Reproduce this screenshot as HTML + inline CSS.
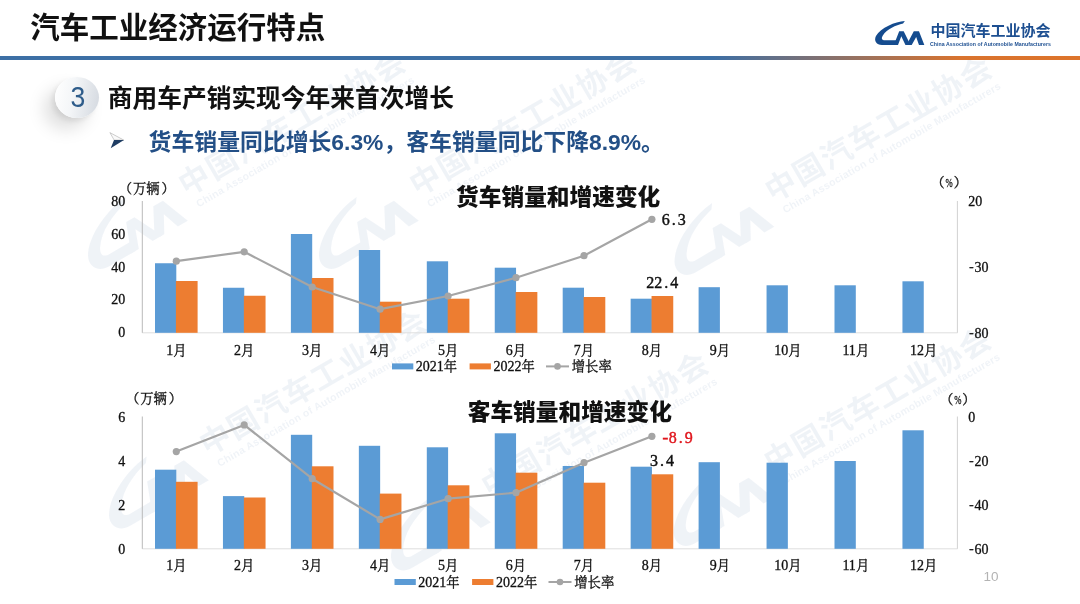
<!DOCTYPE html>
<html lang="zh-CN"><head><meta charset="utf-8"><title>汽车工业经济运行特点</title>
<style>
html,body{margin:0;padding:0;background:#fff;}
body{width:1080px;height:604px;position:relative;overflow:hidden;font-family:"Liberation Sans","Noto Sans CJK SC",sans-serif;}
.abs{position:absolute;white-space:nowrap;}
#title{left:30.2px;top:8px;font-size:29.5px;font-weight:700;color:#111;line-height:40px;letter-spacing:0;}
#rule{left:0;top:56px;width:1080px;height:3.6px;background:linear-gradient(90deg,#3d6fa5 0%,#3d6fa5 66%,#d9732e 89%,#dd742b 100%);}
#badge{left:55px;top:76.6px;width:44.2px;height:41.4px;border-radius:50%;background:linear-gradient(100deg,#ffffff 0%,#f4f6f8 40%,#d3d8df 100%);box-shadow:-11px 11px 17px rgba(0,0,0,.13),-3px 3px 5px rgba(0,0,0,.07);}
#num{left:55.5px;top:75.6px;width:44px;height:44px;line-height:42.5px;text-align:center;font-size:29.5px;transform:scaleX(.9);color:#2e5c8a;font-family:"Liberation Sans",sans-serif;}
#h1{left:107.8px;top:81px;font-size:24.72px;font-weight:700;color:#111;line-height:36px;}
#h2{left:148.6px;top:124.5px;font-size:22.85px;font-weight:700;color:#234f86;line-height:34px;}
#arrow{left:108px;top:130px;}
#logotxt{left:930.6px;top:19.6px;font-size:15px;font-weight:700;color:#1d4f91;line-height:22px;}
#logoen{left:930px;top:41px;font-size:10.6px;font-weight:700;color:#1d4f91;line-height:12px;transform:scale(.491,.5);transform-origin:0 0;letter-spacing:.1px;}
#pg{left:983.4px;top:568px;font-size:13.5px;color:#b3b3b3;line-height:18px;font-family:"Liberation Sans",sans-serif;}
svg text.t{font-family:"Liberation Serif","Noto Serif CJK SC",serif;font-size:13.33px;fill:#111;stroke:#111;stroke-width:.3px;}
svg text.n{font-size:14px;}
svg text.d{font-family:"Liberation Serif","Noto Serif CJK SC",serif;font-size:16px;stroke-width:.42px;}
svg text.ct{font-family:"Liberation Sans","Noto Sans CJK SC",sans-serif;font-size:22.7px;font-weight:900;fill:#111;}
svg .wm text{font-family:"Liberation Sans","Noto Sans CJK SC",sans-serif;font-weight:700;}
</style></head><body>
<svg class="abs" style="left:0;top:60px;overflow:hidden" width="1080" height="544" viewBox="0 60 1080 544">
<g class="wm" transform="translate(194,179.5) rotate(-30.1)" fill="#1d4f91" opacity="0.062"><g transform="translate(-142.9,-34.4) scale(0.1282)"><path d="M585,118 C420,130 180,230 100,370 C60,450 110,522 200,522 L445,522 L480,440 L250,440 C190,440 190,400 215,360 C290,250 430,190 555,160 Z"/>
<path d="M400,522 L490,290 L565,290 L680,522 L595,522 L525,375 L470,522 Z"/>
<path d="M640,470 L735,290 L822,290 L912,522 L822,522 L775,385 L700,522 L660,522 Z"/></g><text x="-15.3" y="11.2" font-size="30.6" letter-spacing="1.6">中国汽车工业协会</text><text x="-10" y="26.6" font-size="10.4" textLength="250" lengthAdjust="spacing">China Association of Automobile Manufacturers</text></g>
<g class="wm" transform="translate(425,179.5) rotate(-30.1)" fill="#1d4f91" opacity="0.062"><g transform="translate(-142.9,-34.4) scale(0.1282)"><path d="M585,118 C420,130 180,230 100,370 C60,450 110,522 200,522 L445,522 L480,440 L250,440 C190,440 190,400 215,360 C290,250 430,190 555,160 Z"/>
<path d="M400,522 L490,290 L565,290 L680,522 L595,522 L525,375 L470,522 Z"/>
<path d="M640,470 L735,290 L822,290 L912,522 L822,522 L775,385 L700,522 L660,522 Z"/></g><text x="-15.3" y="11.2" font-size="30.6" letter-spacing="1.6">中国汽车工业协会</text><text x="-10" y="26.6" font-size="10.4" textLength="250" lengthAdjust="spacing">China Association of Automobile Manufacturers</text></g>
<g class="wm" transform="translate(780.5,185.5) rotate(-30.1)" fill="#1d4f91" opacity="0.062"><g transform="translate(-142.9,-34.4) scale(0.1282)"><path d="M585,118 C420,130 180,230 100,370 C60,450 110,522 200,522 L445,522 L480,440 L250,440 C190,440 190,400 215,360 C290,250 430,190 555,160 Z"/>
<path d="M400,522 L490,290 L565,290 L680,522 L595,522 L525,375 L470,522 Z"/>
<path d="M640,470 L735,290 L822,290 L912,522 L822,522 L775,385 L700,522 L660,522 Z"/></g><text x="-15.3" y="11.2" font-size="30.6" letter-spacing="1.6">中国汽车工业协会</text><text x="-10" y="26.6" font-size="10.4" textLength="250" lengthAdjust="spacing">China Association of Automobile Manufacturers</text></g>
<g class="wm" transform="translate(215,439) rotate(-30.1)" fill="#1d4f91" opacity="0.062"><g transform="translate(-142.9,-34.4) scale(0.1282)"><path d="M585,118 C420,130 180,230 100,370 C60,450 110,522 200,522 L445,522 L480,440 L250,440 C190,440 190,400 215,360 C290,250 430,190 555,160 Z"/>
<path d="M400,522 L490,290 L565,290 L680,522 L595,522 L525,375 L470,522 Z"/>
<path d="M640,470 L735,290 L822,290 L912,522 L822,522 L775,385 L700,522 L660,522 Z"/></g><text x="-15.3" y="11.2" font-size="30.6" letter-spacing="1.6">中国汽车工业协会</text><text x="-10" y="26.6" font-size="10.4" textLength="250" lengthAdjust="spacing">China Association of Automobile Manufacturers</text></g>
<g class="wm" transform="translate(497,481) rotate(-30.1)" fill="#1d4f91" opacity="0.062"><g transform="translate(-142.9,-34.4) scale(0.1282)"><path d="M585,118 C420,130 180,230 100,370 C60,450 110,522 200,522 L445,522 L480,440 L250,440 C190,440 190,400 215,360 C290,250 430,190 555,160 Z"/>
<path d="M400,522 L490,290 L565,290 L680,522 L595,522 L525,375 L470,522 Z"/>
<path d="M640,470 L735,290 L822,290 L912,522 L822,522 L775,385 L700,522 L660,522 Z"/></g><text x="-15.3" y="11.2" font-size="30.6" letter-spacing="1.6">中国汽车工业协会</text><text x="-10" y="26.6" font-size="10.4" textLength="250" lengthAdjust="spacing">China Association of Automobile Manufacturers</text></g>
<g class="wm" transform="translate(779.7,456.5) rotate(-30.1)" fill="#1d4f91" opacity="0.062"><g transform="translate(-142.9,-34.4) scale(0.1282)"><path d="M585,118 C420,130 180,230 100,370 C60,450 110,522 200,522 L445,522 L480,440 L250,440 C190,440 190,400 215,360 C290,250 430,190 555,160 Z"/>
<path d="M400,522 L490,290 L565,290 L680,522 L595,522 L525,375 L470,522 Z"/>
<path d="M640,470 L735,290 L822,290 L912,522 L822,522 L775,385 L700,522 L660,522 Z"/></g><text x="-15.3" y="11.2" font-size="30.6" letter-spacing="1.6">中国汽车工业协会</text><text x="-10" y="26.6" font-size="10.4" textLength="250" lengthAdjust="spacing">China Association of Automobile Manufacturers</text></g>
</svg>
<div class="abs" id="title">汽车工业经济运行特点</div>
<div class="abs" id="rule"></div>
<svg class="abs" style="left:870px;top:14px" width="64" height="36" viewBox="0 0 1074 604" fill="#154c8f"><path d="M585,118 C420,130 180,230 100,370 C60,450 110,522 200,522 L445,522 L480,440 L250,440 C190,440 190,400 215,360 C290,250 430,190 555,160 Z"/>
<path d="M400,522 L490,290 L565,290 L680,522 L595,522 L525,375 L470,522 Z"/>
<path d="M640,470 L735,290 L822,290 L912,522 L822,522 L775,385 L700,522 L660,522 Z"/></svg>
<div class="abs" id="logotxt">中国汽车工业协会</div>
<div class="abs" id="logoen">China Association of Automobile Manufacturers</div>
<div class="abs" id="badge"></div>
<div class="abs" id="num">3</div>
<div class="abs" id="h1">商用车产销实现今年来首次增长</div>
<svg class="abs" id="arrow" width="18" height="20" viewBox="0 0 18 20"><path d="M1.9,2.6 L15.8,10.1 L6.2,10.1 Z" fill="#fafafa" stroke="#b8b8b8" stroke-width=".7" stroke-linejoin="round"/><path d="M6,9.9 L16,9.9 L2.7,18.2 Z" fill="#1f3d63"/></svg>
<div class="abs" id="h2">货车销量同比增长6.3%，客车销量同比下降8.9%。</div>
<svg class="abs" style="left:0;top:0" width="1080" height="604" viewBox="0 0 1080 604">
<path d="M142.3,332.8 H957.5" fill="none" stroke="#dedede" stroke-width="1"/>
<path d="M142.3,201 V332.8" fill="none" stroke="#b9b9b9" stroke-width="1"/>
<path d="M957.4,201 V332.8" fill="none" stroke="#d2d2d2" stroke-width="1"/>
<rect x="155.00" y="263.25" width="21.3" height="69.55" fill="#5b9bd5"/>
<rect x="222.95" y="287.75" width="21.3" height="45.05" fill="#5b9bd5"/>
<rect x="290.90" y="234.00" width="21.3" height="98.80" fill="#5b9bd5"/>
<rect x="358.85" y="250.00" width="21.3" height="82.80" fill="#5b9bd5"/>
<rect x="426.80" y="261.30" width="21.3" height="71.50" fill="#5b9bd5"/>
<rect x="494.75" y="267.70" width="21.3" height="65.10" fill="#5b9bd5"/>
<rect x="562.70" y="287.70" width="21.3" height="45.10" fill="#5b9bd5"/>
<rect x="630.65" y="298.70" width="21.3" height="34.10" fill="#5b9bd5"/>
<rect x="698.60" y="287.20" width="21.3" height="45.60" fill="#5b9bd5"/>
<rect x="766.55" y="285.30" width="21.3" height="47.50" fill="#5b9bd5"/>
<rect x="834.50" y="285.30" width="21.3" height="47.50" fill="#5b9bd5"/>
<rect x="902.45" y="281.30" width="21.3" height="51.50" fill="#5b9bd5"/>
<rect x="175.90" y="281.00" width="21.7" height="51.80" fill="#ed7d31"/>
<rect x="243.85" y="295.75" width="21.7" height="37.05" fill="#ed7d31"/>
<rect x="311.80" y="278.00" width="21.7" height="54.80" fill="#ed7d31"/>
<rect x="379.75" y="301.70" width="21.7" height="31.10" fill="#ed7d31"/>
<rect x="447.70" y="298.70" width="21.7" height="34.10" fill="#ed7d31"/>
<rect x="515.65" y="292.00" width="21.7" height="40.80" fill="#ed7d31"/>
<rect x="583.60" y="297.00" width="21.7" height="35.80" fill="#ed7d31"/>
<rect x="651.55" y="296.00" width="21.7" height="36.80" fill="#ed7d31"/>
<polyline fill="none" stroke="#a5a5a5" stroke-width="2.2" stroke-linejoin="round" points="176.3,261.2 244.2,251.8 312.2,287.0 380.1,309.2 448.1,296.0 516.0,277.7 584.0,255.7 651.9,219.3"/>
<circle cx="176.3" cy="261.2" r="3.6" fill="#a5a5a5"/>
<circle cx="244.2" cy="251.8" r="3.6" fill="#a5a5a5"/>
<circle cx="312.2" cy="287.0" r="3.6" fill="#a5a5a5"/>
<circle cx="380.1" cy="309.2" r="3.6" fill="#a5a5a5"/>
<circle cx="448.1" cy="296.0" r="3.6" fill="#a5a5a5"/>
<circle cx="516.0" cy="277.7" r="3.6" fill="#a5a5a5"/>
<circle cx="584.0" cy="255.7" r="3.6" fill="#a5a5a5"/>
<circle cx="651.9" cy="219.3" r="3.6" fill="#a5a5a5"/>
<text x="125.2" y="205.7" text-anchor="end" class="t n">80</text>
<text x="125.2" y="238.6" text-anchor="end" class="t n">60</text>
<text x="125.2" y="271.5" text-anchor="end" class="t n">40</text>
<text x="125.2" y="304.4" text-anchor="end" class="t n">20</text>
<text x="125.2" y="337.3" text-anchor="end" class="t n">0</text>
<text x="968.2" y="205.9" class="t n">20</text>
<text x="967.4" y="271.8" class="t n"><tspan font-family="Liberation Mono,monospace" font-size="13" dy="-0.9">-</tspan><tspan x="974.6" dy="0.9">30</tspan></text>
<text x="967.4" y="337.7" class="t n"><tspan font-family="Liberation Mono,monospace" font-size="13" dy="-0.9">-</tspan><tspan x="974.6" dy="0.9">80</tspan></text>
<text x="176.3" y="354.8" text-anchor="middle" class="t"><tspan font-size="14">1</tspan>月</text>
<text x="244.2" y="354.8" text-anchor="middle" class="t"><tspan font-size="14">2</tspan>月</text>
<text x="312.2" y="354.8" text-anchor="middle" class="t"><tspan font-size="14">3</tspan>月</text>
<text x="380.1" y="354.8" text-anchor="middle" class="t"><tspan font-size="14">4</tspan>月</text>
<text x="448.1" y="354.8" text-anchor="middle" class="t"><tspan font-size="14">5</tspan>月</text>
<text x="516.0" y="354.8" text-anchor="middle" class="t"><tspan font-size="14">6</tspan>月</text>
<text x="584.0" y="354.8" text-anchor="middle" class="t"><tspan font-size="14">7</tspan>月</text>
<text x="651.9" y="354.8" text-anchor="middle" class="t"><tspan font-size="14">8</tspan>月</text>
<text x="719.9" y="354.8" text-anchor="middle" class="t"><tspan font-size="14">9</tspan>月</text>
<text x="787.8" y="354.8" text-anchor="middle" class="t"><tspan font-size="14">10</tspan>月</text>
<text x="855.8" y="354.8" text-anchor="middle" class="t"><tspan font-size="14">11</tspan>月</text>
<text x="923.7" y="354.8" text-anchor="middle" class="t"><tspan font-size="14">12</tspan>月</text>
<text x="147.3" y="192.8" text-anchor="middle" class="t" dx="-0.6 0.9 0 1.8">（万辆）</text>
<text x="950.2" y="187.4" text-anchor="middle" class="t" dx="-1">（<tspan textLength="7.2" lengthAdjust="spacingAndGlyphs" dx="0.9">%</tspan><tspan dx="0.9">）</tspan></text>
<rect x="392" y="363.4" width="21.3" height="6" fill="#5b9bd5"/>
<text x="415.8" y="371.2" class="t"><tspan font-size="14">2021</tspan>年</text>
<rect x="469.6" y="363.4" width="21.3" height="6" fill="#ed7d31"/>
<text x="493.4" y="371.2" class="t"><tspan font-size="14">2022</tspan>年</text>
<path d="M546,366.4 h23" stroke="#a5a5a5" stroke-width="2"/>
<circle cx="557.5" cy="366.4" r="3.3" fill="#a5a5a5"/>
<text x="571.8" y="371.2" class="t">增长率</text>
<text x="661.8" y="224.9" dx="0 2 2" class="d" fill="#111" stroke="#111">6.3</text>
<text x="646.2" y="287.6" dx="0 0 2 2" class="d" fill="#111" stroke="#111">22.4</text>
<text x="558.2" y="204.7" text-anchor="middle" class="ct">货车销量和增速变化</text>
<path d="M142.3,548.8 H957.5" fill="none" stroke="#dedede" stroke-width="1"/>
<path d="M142.3,416.5 V548.8" fill="none" stroke="#b9b9b9" stroke-width="1"/>
<path d="M957.4,416.5 V548.8" fill="none" stroke="#d2d2d2" stroke-width="1"/>
<rect x="155.00" y="469.70" width="21.3" height="79.10" fill="#5b9bd5"/>
<rect x="222.95" y="496.10" width="21.3" height="52.70" fill="#5b9bd5"/>
<rect x="290.90" y="434.80" width="21.3" height="114.00" fill="#5b9bd5"/>
<rect x="358.85" y="445.80" width="21.3" height="103.00" fill="#5b9bd5"/>
<rect x="426.80" y="447.30" width="21.3" height="101.50" fill="#5b9bd5"/>
<rect x="494.75" y="433.30" width="21.3" height="115.50" fill="#5b9bd5"/>
<rect x="562.70" y="466.00" width="21.3" height="82.80" fill="#5b9bd5"/>
<rect x="630.65" y="466.70" width="21.3" height="82.10" fill="#5b9bd5"/>
<rect x="698.60" y="462.20" width="21.3" height="86.60" fill="#5b9bd5"/>
<rect x="766.55" y="462.70" width="21.3" height="86.10" fill="#5b9bd5"/>
<rect x="834.50" y="461.00" width="21.3" height="87.80" fill="#5b9bd5"/>
<rect x="902.45" y="430.30" width="21.3" height="118.50" fill="#5b9bd5"/>
<rect x="175.90" y="481.80" width="21.7" height="67.00" fill="#ed7d31"/>
<rect x="243.85" y="497.50" width="21.7" height="51.30" fill="#ed7d31"/>
<rect x="311.80" y="466.30" width="21.7" height="82.50" fill="#ed7d31"/>
<rect x="379.75" y="493.60" width="21.7" height="55.20" fill="#ed7d31"/>
<rect x="447.70" y="485.30" width="21.7" height="63.50" fill="#ed7d31"/>
<rect x="515.65" y="472.70" width="21.7" height="76.10" fill="#ed7d31"/>
<rect x="583.60" y="482.70" width="21.7" height="66.10" fill="#ed7d31"/>
<rect x="651.55" y="474.30" width="21.7" height="74.50" fill="#ed7d31"/>
<polyline fill="none" stroke="#a5a5a5" stroke-width="2.2" stroke-linejoin="round" points="176.3,451.6 244.2,424.9 312.2,478.7 380.1,519.4 448.1,498.7 516.0,492.7 584.0,462.7 651.9,436.3"/>
<circle cx="176.3" cy="451.6" r="3.6" fill="#a5a5a5"/>
<circle cx="244.2" cy="424.9" r="3.6" fill="#a5a5a5"/>
<circle cx="312.2" cy="478.7" r="3.6" fill="#a5a5a5"/>
<circle cx="380.1" cy="519.4" r="3.6" fill="#a5a5a5"/>
<circle cx="448.1" cy="498.7" r="3.6" fill="#a5a5a5"/>
<circle cx="516.0" cy="492.7" r="3.6" fill="#a5a5a5"/>
<circle cx="584.0" cy="462.7" r="3.6" fill="#a5a5a5"/>
<circle cx="651.9" cy="436.3" r="3.6" fill="#a5a5a5"/>
<text x="125.2" y="421.8" text-anchor="end" class="t n">6</text>
<text x="125.2" y="465.7" text-anchor="end" class="t n">4</text>
<text x="125.2" y="509.6" text-anchor="end" class="t n">2</text>
<text x="125.2" y="553.5" text-anchor="end" class="t n">0</text>
<text x="968.2" y="421.8" class="t n">0</text>
<text x="967.4" y="465.6" class="t n"><tspan font-family="Liberation Mono,monospace" font-size="13" dy="-0.9">-</tspan><tspan x="974.6" dy="0.9">20</tspan></text>
<text x="967.4" y="509.6" class="t n"><tspan font-family="Liberation Mono,monospace" font-size="13" dy="-0.9">-</tspan><tspan x="974.6" dy="0.9">40</tspan></text>
<text x="967.4" y="553.8" class="t n"><tspan font-family="Liberation Mono,monospace" font-size="13" dy="-0.9">-</tspan><tspan x="974.6" dy="0.9">60</tspan></text>
<text x="176.3" y="570.4" text-anchor="middle" class="t"><tspan font-size="14">1</tspan>月</text>
<text x="244.2" y="570.4" text-anchor="middle" class="t"><tspan font-size="14">2</tspan>月</text>
<text x="312.2" y="570.4" text-anchor="middle" class="t"><tspan font-size="14">3</tspan>月</text>
<text x="380.1" y="570.4" text-anchor="middle" class="t"><tspan font-size="14">4</tspan>月</text>
<text x="448.1" y="570.4" text-anchor="middle" class="t"><tspan font-size="14">5</tspan>月</text>
<text x="516.0" y="570.4" text-anchor="middle" class="t"><tspan font-size="14">6</tspan>月</text>
<text x="584.0" y="570.4" text-anchor="middle" class="t"><tspan font-size="14">7</tspan>月</text>
<text x="651.9" y="570.4" text-anchor="middle" class="t"><tspan font-size="14">8</tspan>月</text>
<text x="719.9" y="570.4" text-anchor="middle" class="t"><tspan font-size="14">9</tspan>月</text>
<text x="787.8" y="570.4" text-anchor="middle" class="t"><tspan font-size="14">10</tspan>月</text>
<text x="855.8" y="570.4" text-anchor="middle" class="t"><tspan font-size="14">11</tspan>月</text>
<text x="923.7" y="570.4" text-anchor="middle" class="t"><tspan font-size="14">12</tspan>月</text>
<text x="154.6" y="403.2" text-anchor="middle" class="t" dx="-0.6 0.9 0 1.8">（万辆）</text>
<text x="958.8" y="403.6" text-anchor="middle" class="t" dx="-1">（<tspan textLength="7.2" lengthAdjust="spacingAndGlyphs" dx="0.9">%</tspan><tspan dx="0.9">）</tspan></text>
<rect x="394.5" y="579" width="21.3" height="6" fill="#5b9bd5"/>
<text x="418.3" y="586.8" class="t"><tspan font-size="14">2021</tspan>年</text>
<rect x="472.1" y="579" width="21.3" height="6" fill="#ed7d31"/>
<text x="495.9" y="586.8" class="t"><tspan font-size="14">2022</tspan>年</text>
<path d="M548.5,582 h23" stroke="#a5a5a5" stroke-width="2"/>
<circle cx="560.0" cy="582" r="3.3" fill="#a5a5a5"/>
<text x="574.3" y="586.8" class="t">增长率</text>
<text x="660.1999999999999" y="443.3" class="d" fill="#e0161d" stroke="#e0161d"><tspan font-family="Liberation Mono,monospace" font-size="17" dy="-0.8">-</tspan><tspan x="668.8" dy="0.8" dx="0 2 2">8.9</tspan></text>
<text x="650" y="466.0" dx="0 2 2" class="d" fill="#111" stroke="#111">3.4</text>
<text x="569.8" y="420.1" text-anchor="middle" class="ct">客车销量和增速变化</text>
</svg>
<div class="abs" id="pg">10</div>
</body></html>
